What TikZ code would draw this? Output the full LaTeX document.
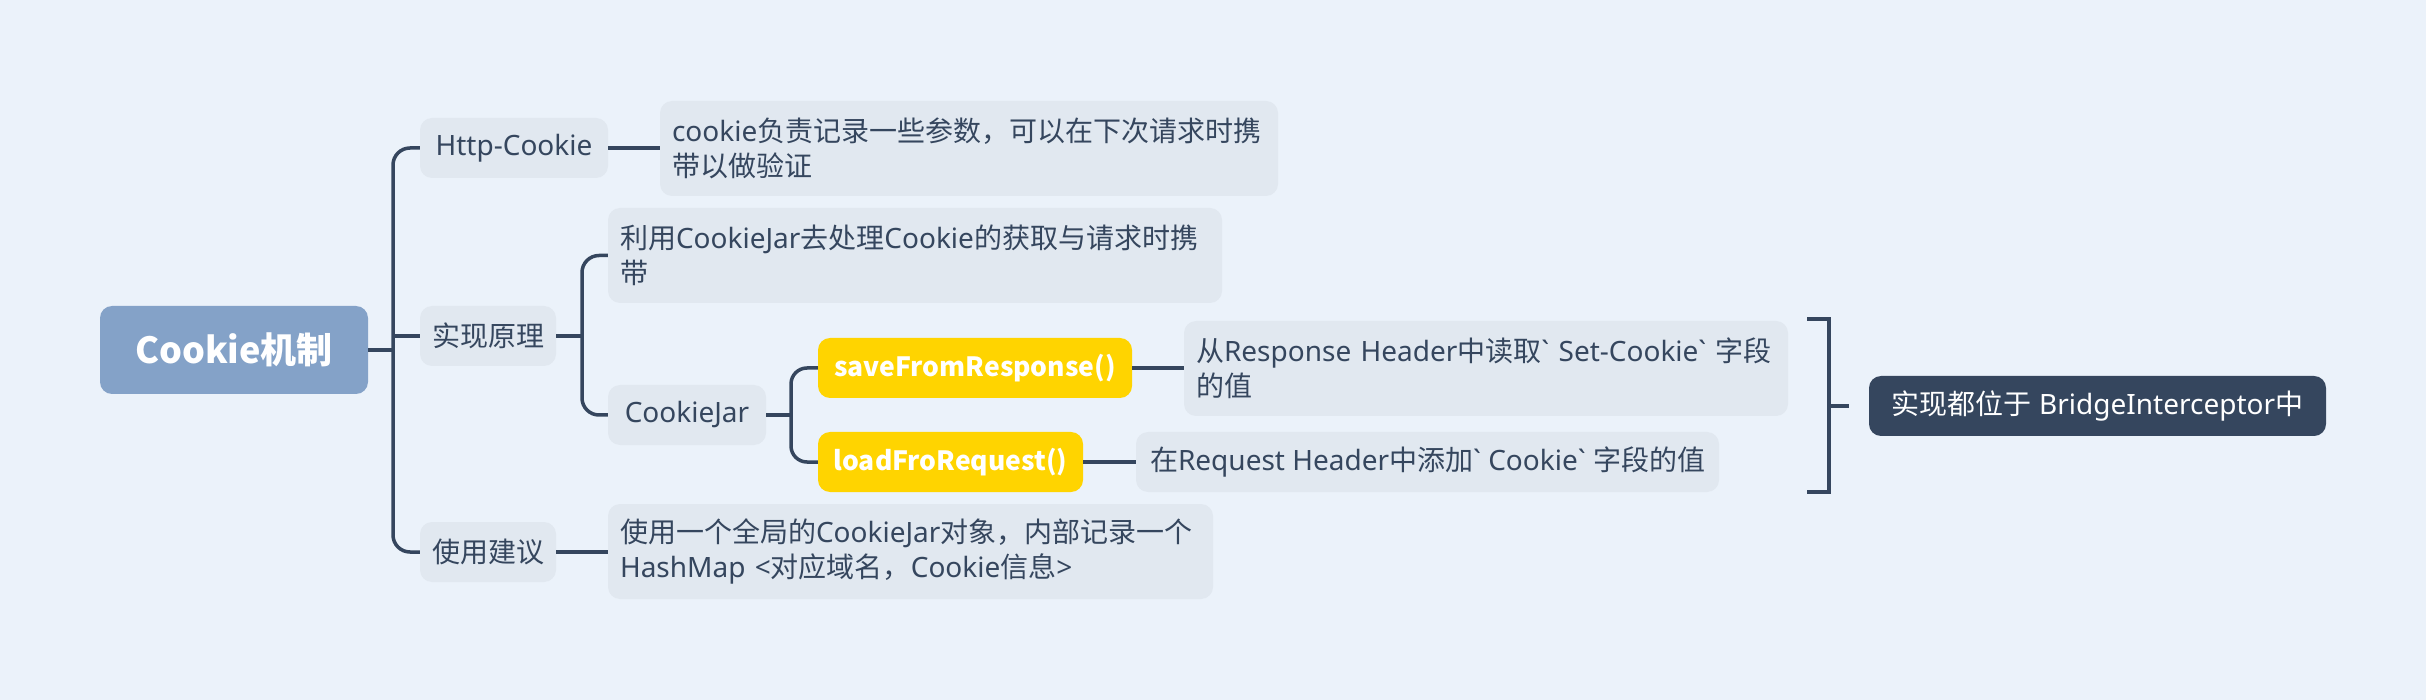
\documentclass[tikz,border=0pt]{standalone}
\usepackage{fontspec}
\setmainfont{Noto Sans}[Ligatures=TeXOff]
\newfontfamily\zhfont{Noto Sans CJK SC}
\newcommand\zh[1]{{\zhfont #1}}
\newcommand\fsz{\fontsize{28}{35}\selectfont}
\definecolor{bgc}{HTML}{EBF2FA}
\definecolor{boxc}{HTML}{E1E8F0}
\definecolor{ink}{HTML}{35465E}
\definecolor{rootc}{HTML}{84A2C8}
\definecolor{yel}{HTML}{FFD400}
\tikzset{
  topic/.style={rounded corners=12pt, fill=boxc, text=ink, font=\fsz, inner sep=0pt, minimum height=60pt},
  multi/.style={topic, align=left, inner xsep=12pt, minimum height=95pt},
  hot/.style={topic, fill=yel, text=white, font=\fontsize{26.5}{35}\selectfont\zhfont\bfseries},
  conn/.style={draw=ink, line width=3.5pt},
}
\begin{document}
\begin{tikzpicture}[x=1pt,y=-1pt]
\fill[bgc] (0,0) rectangle (2426,700);

% nodes
\node[topic, fill=rootc, text=white, font=\fontsize{36}{44}\selectfont\zhfont\bfseries,
      minimum width=268pt, minimum height=88pt] (root) at (234,350) {Cookie机制};

\node[topic, minimum width=188pt] (http) at (514,148) {Http-Cookie};
\node[multi, text width=594pt] (cdesc) at (969,148.5)
  {\mbox{cookie\zh{负责记录一些参数，可以在下次请求时携}}\\\mbox{\zh{带以做验证}}};

\node[topic, minimum width=136pt] (impl) at (488,336) {\zh{实现原理}};
\node[multi, text width=590pt] (use1) at (915,255.5)
  {\mbox{\zh{利用}CookieJar\zh{去处理}Cookie\zh{的获取与请求时携}}\\\mbox{\zh{带}}};
\node[topic, minimum width=158pt] (jar) at (687,415) {CookieJar};
\node[hot, minimum width=314pt] (save) at (975,368) {saveFromResponse()};
\node[hot, minimum width=265pt] (load) at (950.5,462) {loadFroRequest()};
\node[multi, text width=580pt] (resp) at (1486,368.5)
  {\mbox{\zh{从}Response Header\zh{中读取}` Set-Cookie` \zh{字段}}\\\mbox{\zh{的值}}};
\node[topic, minimum width=583pt] (req) at (1427.5,462)
  {\zh{在}Request Header\zh{中添加}` Cookie` \zh{字段的值}};
\node[topic, fill=ink, text=white, minimum width=457pt] (final) at (2097.5,406)
  {\zh{实现都位于} BridgeInterceptor\zh{中}};

\node[topic, minimum width=136pt] (use) at (488,552) {\zh{使用建议}};
\node[multi, text width=581pt] (udesc) at (910.5,551.5)
  {\mbox{\zh{使用一个全局的}CookieJar\zh{对象，内部记录一个}}\\\mbox{HashMap <\zh{对应域名，}Cookie\zh{信息}>}};

% branch x positions
\coordinate (t1) at (393,0);
\coordinate (t2) at (582,0);
\coordinate (t3) at (791,0);

% connectors
\draw[conn] (root.east) -- (root.east -| t1);
\draw[conn, rounded corners=17pt] (http.west) -- (http.west -| t1) -- (use.west -| t1) -- (use.west);
\draw[conn] (impl.west) -- (impl.west -| t1);

\draw[conn] (http.east) -- (http.east -| cdesc.west);
\draw[conn] (use.east) -- (use.east -| udesc.west);

\draw[conn] (impl.east) -- (impl.east -| t2);
\draw[conn, rounded corners=17pt] (use1.west) -- (use1.west -| t2) -- (jar.west -| t2) -- (jar.west);

\draw[conn] (jar.east) -- (jar.east -| t3);
\draw[conn, rounded corners=16pt] (save.west) -- (save.west -| t3) -- (load.west -| t3) -- (load.west);

\draw[conn] (save.east) -- (save.east -| resp.west);
\draw[conn] (load.east) -- (load.east -| req.west);

% summary bracket
\coordinate (bt) at (1807,319);
\coordinate (bb) at (1807,492);
\coordinate (bx) at (1829,0);
\coordinate (bm) at (1829,406);
\coordinate (tick) at (1849,406);
\draw[conn] (bt) -- (bt -| bx) -- (bb -| bx) -- (bb);
\draw[conn] (bm) -- (tick);
\end{tikzpicture}
\end{document}
